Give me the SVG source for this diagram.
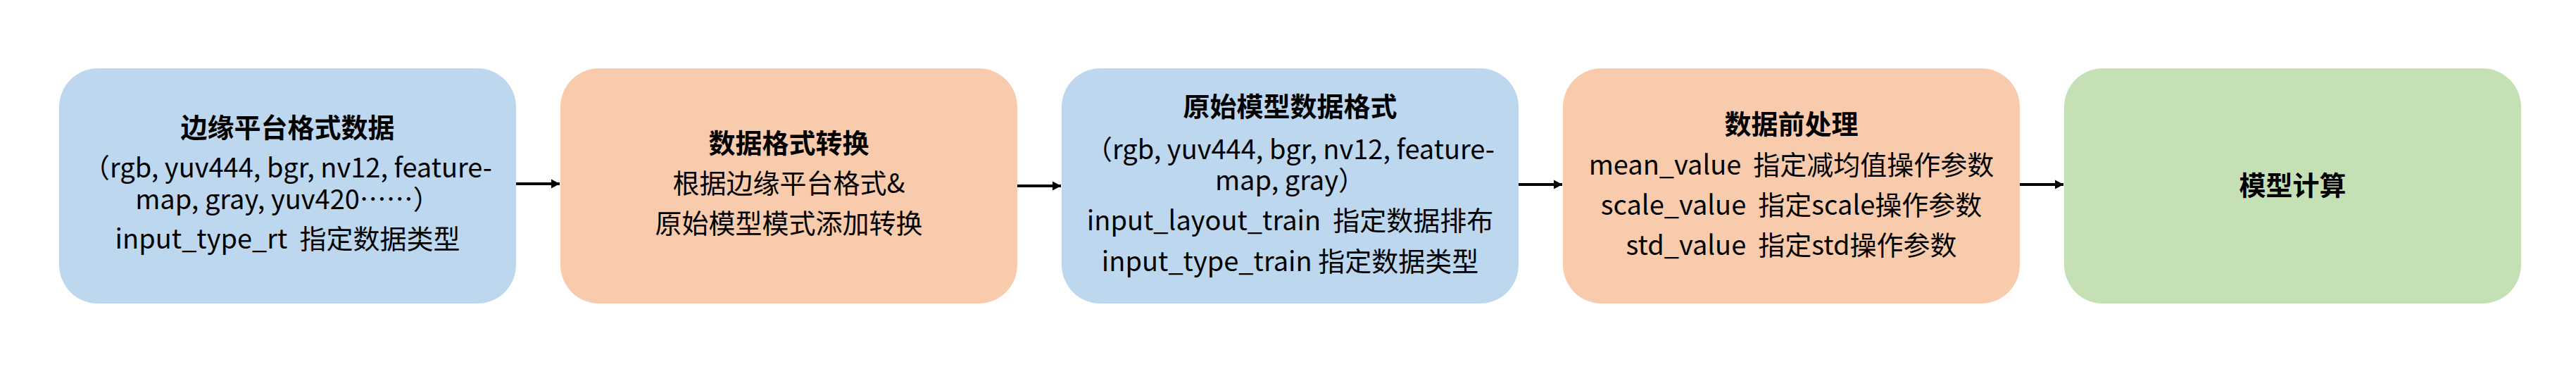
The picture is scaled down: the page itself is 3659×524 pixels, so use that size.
<svg xmlns="http://www.w3.org/2000/svg" width="3659" height="524" viewBox="0 0 3659 524" xml:space="preserve" xml:lang="zh-CN" lang="zh-CN">
<style>
.box{stroke:none}
.blue{fill:#BDD7EE}
.orange{fill:#F8CBAD}
.green{fill:#C5E0B4}
text{font-family:"Noto Sans CJK SC","Noto Sans",sans-serif;font-size:38px;fill:#000;text-anchor:middle;white-space:pre}
.title{font-weight:bold}
.conn{stroke:#000;stroke-width:4;fill:none}
</style>
<defs>
<marker id="arr" markerUnits="userSpaceOnUse" markerWidth="14" markerHeight="14" refX="12" refY="7" orient="auto">
<path d="M0,0.5 L12,7 L0,13.5 Z" fill="#000"/>
</marker>
</defs>
<rect width="3659" height="524" fill="#fff"/>
<g id="node1">
<rect class="box blue" x="84" y="97" width="649" height="334" rx="55" ry="55"/>
<text class="title" x="408.5" y="195">边缘平台格式数据</text>
<text x="408.5" y="252">（rgb, yuv444, bgr, nv12, feature-</text>
<text x="408.5" y="297">map, gray, yuv420……）</text>
<text x="408.5" y="353">input_type_rt  指定数据类型</text>
</g>
<g id="node2">
<rect class="box orange" x="796" y="97" width="649" height="334" rx="55" ry="55"/>
<text class="title" x="1120.5" y="217">数据格式转换</text>
<text x="1120.5" y="274">根据边缘平台格式&amp;</text>
<text x="1120.5" y="331">原始模型模式添加转换</text>
</g>
<g id="node3">
<rect class="box blue" x="1508" y="97" width="649" height="334" rx="55" ry="55"/>
<text class="title" x="1832.5" y="165">原始模型数据格式</text>
<text x="1832.5" y="226">（rgb, yuv444, bgr, nv12, feature-</text>
<text x="1832.5" y="270">map, gray）</text>
<text x="1832.5" y="327">input_layout_train  指定数据排布</text>
<text x="1832.5" y="385">input_type_train 指定数据类型</text>
</g>
<g id="node4">
<rect class="box orange" x="2220" y="97" width="649" height="334" rx="55" ry="55"/>
<text class="title" x="2544.5" y="190">数据前处理</text>
<text x="2544.5" y="248">mean_value  指定减均值操作参数</text>
<text x="2544.5" y="305">scale_value  指定scale操作参数</text>
<text x="2544.5" y="362">std_value  指定std操作参数</text>
</g>
<g id="node5">
<rect class="box green" x="2932" y="97" width="649" height="334" rx="55" ry="55"/>
<text class="title" x="3256.5" y="277">模型计算</text>
</g>
<g id="connectors">
<line class="conn" x1="733" y1="261" x2="795" y2="261" marker-end="url(#arr)"/>
<line class="conn" x1="1445" y1="264" x2="1507" y2="264" marker-end="url(#arr)"/>
<line class="conn" x1="2157" y1="262" x2="2219" y2="262" marker-end="url(#arr)"/>
<line class="conn" x1="2869" y1="262" x2="2931" y2="262" marker-end="url(#arr)"/>
</g>
</svg>
